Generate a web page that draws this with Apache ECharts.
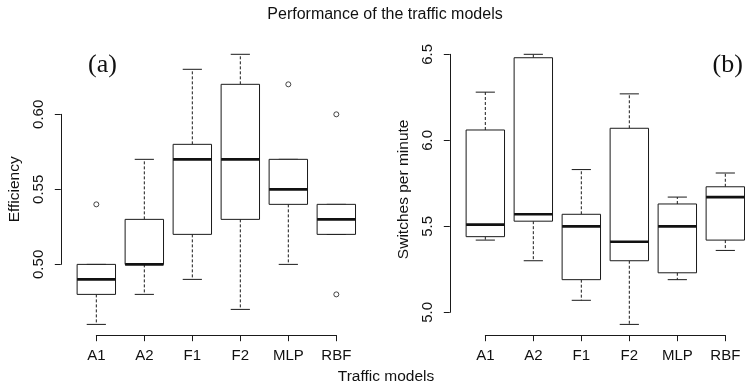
<!DOCTYPE html>
<html>
<head>
<meta charset="utf-8">
<script src="https://cdn.jsdelivr.net/npm/echarts@6/dist/echarts.min.js"></script>
<style>
html,body{margin:0;padding:0;background:#fff;}
#chart{width:745px;height:387px;}
</style>
</head>
<body>
<div id="chart"></div>
<script>
// ---- data ----
const categories = ['A1', 'A2', 'F1', 'F2', 'MLP', 'RBF'];

// (a) Efficiency
const effLow  = [0.46, 0.48, 0.49, 0.47, 0.50, 0.52];
const effQ1   = [0.48, 0.50, 0.52, 0.53, 0.54, 0.52];
const effMed  = [0.49, 0.50, 0.57, 0.57, 0.55, 0.53];
const effQ3   = [0.50, 0.53, 0.58, 0.62, 0.57, 0.54];
const effHigh = [0.50, 0.57, 0.63, 0.64, 0.57, 0.54];
const effOutliers = [['A1', 0.54], ['MLP', 0.62], ['RBF', 0.60], ['RBF', 0.48]];
const effTicks = [0.50, 0.55, 0.60];

// (b) Switches per minute
const swLow  = [5.42, 5.30, 5.07, 4.93, 5.19, 5.36];
const swQ1   = [5.44, 5.53, 5.19, 5.30, 5.23, 5.42];
const swMed  = [5.51, 5.57, 5.50, 5.41, 5.50, 5.67];
const swQ3   = [6.06, 6.48, 5.57, 6.07, 5.63, 5.73];
const swHigh = [6.28, 6.50, 5.83, 6.27, 5.67, 5.81];
const swOutliers = [];
const swTicks = [5.0, 5.5, 6.0, 6.5];

// ---- layout ----
const plotT = 43.5, plotB = 335.2, unit = 48;
const xMin = 0.26, xMax = 6.74;
const plotW = (xMax - xMin) * unit;
const plotH = plotB - plotT;
const panelLeft = [60.8, 449.8];
const TXT = '#111';
const LINE = '#1a1a1a';
const FONT = '"Liberation Sans", Arial, Helvetica, sans-serif';

function yRange(arrs) {
  const all = [].concat(...arrs);
  const lo = Math.min(...all), hi = Math.max(...all);
  const r = hi - lo;
  return [lo - 0.04 * r, hi + 0.04 * r];
}
const effRange = yRange([effLow, effHigh, effOutliers.map(o => o[1])]);
const swRange = yRange([swLow, swHigh]);

function yPix(range, v) { return plotT + (range[1] - v) / (range[1] - range[0]) * plotH; }

function boxRows(lo, q1, med, q3, hi) {
  return categories.map((c, i) => [i + 1, lo[i], q1[i], med[i], q3[i], hi[i]]);
}
function outlierRows(outs) {
  return outs.map(o => [categories.indexOf(o[0]) + 1, o[1]]);
}

function renderBox(params, api) {
  const x = api.value(0);
  const lo = api.value(1), q1 = api.value(2), med = api.value(3), q3 = api.value(4), hi = api.value(5);
  const w = api.size([0.8, 0])[0];
  const half = w / 2, cap = w / 4;
  const pLo = api.coord([x, lo]), pQ1 = api.coord([x, q1]), pMed = api.coord([x, med]);
  const pQ3 = api.coord([x, q3]), pHi = api.coord([x, hi]);
  const cx = pMed[0];
  const dashed = { stroke: LINE, lineWidth: 1, lineDash: [3, 2], fill: null };
  const solid = { stroke: LINE, lineWidth: 1, fill: null };
  return {
    type: 'group',
    children: [
      { type: 'line', shape: { x1: cx, y1: pQ1[1], x2: cx, y2: pLo[1] }, style: dashed },
      { type: 'line', shape: { x1: cx, y1: pQ3[1], x2: cx, y2: pHi[1] }, style: dashed },
      { type: 'line', shape: { x1: cx - cap, y1: pLo[1], x2: cx + cap, y2: pLo[1] }, style: solid },
      { type: 'line', shape: { x1: cx - cap, y1: pHi[1], x2: cx + cap, y2: pHi[1] }, style: solid },
      { type: 'rect', shape: { x: cx - half, y: pQ3[1], width: w, height: pQ1[1] - pQ3[1] },
        style: { fill: '#fff', stroke: LINE, lineWidth: 1 } },
      { type: 'line', shape: { x1: cx - half, y1: pMed[1], x2: cx + half, y2: pMed[1] },
        style: { stroke: '#111', lineWidth: 2.6 } }
    ]
  };
}

const grids = [], xAxes = [], yAxes = [], series = [];

function addPanel(p, range, ticks, digits, yName, lo, q1, med, q3, hi, outs) {
  const left = panelLeft[p];
  // main plotting grid
  const gMain = grids.length;
  grids.push({ left: left, top: plotT, width: plotW, height: plotH, outerBoundsMode: 'none', containLabel: false });
  xAxes.push({ gridIndex: gMain, type: 'value', min: xMin, max: xMax, show: false });
  yAxes.push({
    gridIndex: gMain, type: 'value', min: range[0], max: range[1],
    axisLine: { show: false }, axisTick: { show: false }, axisLabel: { show: false }, splitLine: { show: false },
    name: yName, nameLocation: 'middle', nameRotate: 90, nameGap: 38,
    nameTextStyle: { color: TXT, fontSize: 15.5, fontFamily: FONT }
  });
  series.push({
    type: 'custom', xAxisIndex: gMain, yAxisIndex: gMain,
    data: boxRows(lo, q1, med, q3, hi), renderItem: renderBox,
    encode: { x: 0, y: [1, 2, 3, 4, 5] }, silent: true, z: 2
  });
  if (outs.length) {
    series.push({
      type: 'scatter', xAxisIndex: gMain, yAxisIndex: gMain, data: outlierRows(outs),
      symbol: 'circle', symbolSize: 5,
      itemStyle: { color: 'rgba(0,0,0,0)', borderColor: LINE, borderWidth: 1 }, silent: true, z: 3
    });
  }
  // y tick axis (only spans the ticks, like R)
  const gY = grids.length;
  const tTop = yPix(range, ticks[ticks.length - 1]);
  const tBot = yPix(range, ticks[0]);
  grids.push({ left: left, top: tTop, width: 10, height: tBot - tTop, outerBoundsMode: 'none', containLabel: false });
  xAxes.push({ gridIndex: gY, type: 'value', show: false });
  yAxes.push({
    gridIndex: gY, type: 'value', min: ticks[0], max: ticks[ticks.length - 1],
    interval: ticks[1] - ticks[0],
    axisLine: { show: true, lineStyle: { color: LINE, width: 1 } },
    axisTick: { show: true, length: 6, lineStyle: { color: LINE, width: 1 } },
    axisLabel: { show: true, rotate: 90, margin: 14, color: TXT, fontSize: 15, fontFamily: FONT,
      formatter: v => Number(v).toFixed(digits) },
    splitLine: { show: false }
  });
  // x tick axis (from first to last category)
  const gX = grids.length;
  grids.push({ left: left + (1 - xMin) * unit, top: plotB - 10, width: (categories.length - 1) * unit, height: 10,
    outerBoundsMode: 'none', containLabel: false });
  xAxes.push({
    gridIndex: gX, type: 'category', data: categories, boundaryGap: false, position: 'bottom',
    axisLine: { show: true, lineStyle: { color: LINE, width: 1 } },
    axisTick: { show: true, length: 6, alignWithLabel: true, lineStyle: { color: LINE, width: 1 } },
    axisLabel: { show: true, margin: 13, color: TXT, fontSize: 15, fontFamily: FONT, interval: 0 },
    splitLine: { show: false }
  });
  yAxes.push({ gridIndex: gX, type: 'value', show: false });
}

addPanel(0, effRange, effTicks, 2, 'Efficiency', effLow, effQ1, effMed, effQ3, effHigh, effOutliers);
addPanel(1, swRange, swTicks, 1, 'Switches per minute', swLow, swQ1, swMed, swQ3, swHigh, swOutliers);

const chart = echarts.init(document.getElementById('chart'), null, { renderer: 'canvas' });
chart.setOption({
  backgroundColor: '#fff',
  animation: false,
  title: [
    { text: 'Performance of the traffic models', left: 385, top: 7, textAlign: 'center', padding: 0,
      textStyle: { color: TXT, fontSize: 16, fontWeight: 'normal', fontFamily: FONT } },
    { text: 'Traffic models', left: 386, top: 369, textAlign: 'center', padding: 0,
      textStyle: { color: TXT, fontSize: 15.5, fontWeight: 'normal', fontFamily: FONT } },
    { text: '(a)', left: 88, top: 52, padding: 0,
      textStyle: { color: TXT, fontSize: 26, fontWeight: 'normal', fontFamily: '"Liberation Serif", "Times New Roman", serif' } },
    { text: '(b)', left: 712.5, top: 52, padding: 0,
      textStyle: { color: TXT, fontSize: 26, fontWeight: 'normal', fontFamily: '"Liberation Serif", "Times New Roman", serif' } }
  ],
  grid: grids,
  xAxis: xAxes,
  yAxis: yAxes,
  series: series
});
</script>
</body>
</html>
